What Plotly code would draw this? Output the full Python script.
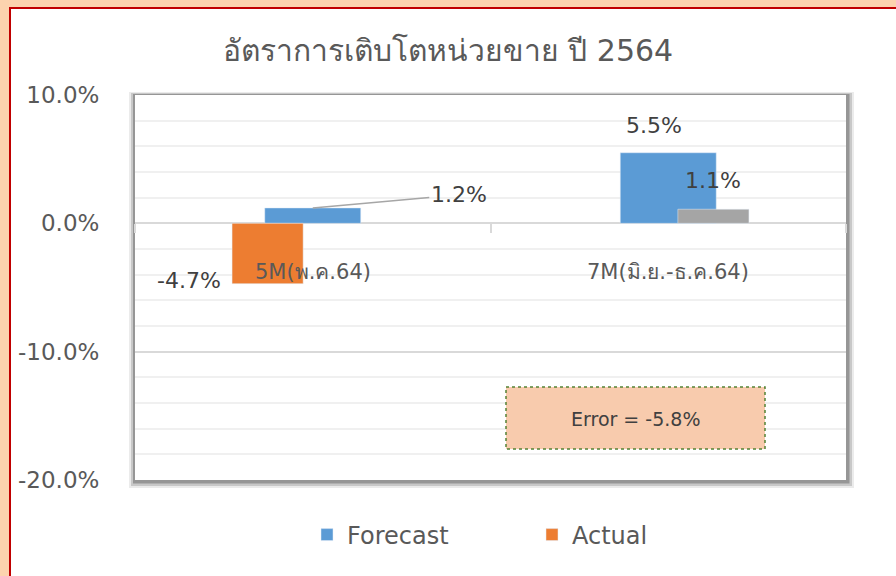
import plotly.graph_objects as go

# Daten
categories = ["5M(พ.ค.64)", "7M(มิ.ย.-ธ.ค.64)"]
forecast = [0.012, 0.055]
actual = [-0.047, None]
actual_7m = [None, 0.011]
error_value = -0.058
y_ticks = [0.10, 0.0, -0.10, -0.20]

W, H = 896, 576
L, R, T, B = 135, 50, 95, 96
TXT = "#595959"
FONT = "Tahoma, 'DejaVu Sans', 'Noto Sans', sans-serif"


def fx(px):
    return (px - L) / (W - L - R)


def fy(py):
    return (H - B - py) / (H - T - B)


fig = go.Figure()

fig.add_trace(go.Bar(x=categories, y=forecast, name="Forecast", marker_color="#5b9bd5",
                     width=0.27, offset=-0.135))
fig.add_trace(go.Bar(x=categories, y=actual, name="Actual", marker_color="#ed7d31",
                     width=0.2, offset=-0.227))
fig.add_trace(go.Bar(x=categories, y=actual_7m, name="Actual 7M", marker_color="#a5a5a5",
                     width=0.2, offset=0.027, showlegend=False))

# Datenbeschriftungen
ann = []
ann.append(dict(x=categories[0], y=forecast[0], text=f"{forecast[0]:.1%}", showarrow=True,
                arrowhead=0, arrowwidth=1.5, arrowcolor="#a6a6a6", ax=146, ay=-13))
ann.append(dict(x=categories[1], y=forecast[1], text=f"{forecast[1]:.1%}", showarrow=False,
                xshift=-14, yshift=27))
ann.append(dict(x=categories[0], y=actual[0], text=f"{actual[0]:.1%}", showarrow=False,
                xshift=-124, yshift=3))
ann.append(dict(x=categories[1], y=actual_7m[1], text=f"{actual_7m[1]:.1%}", showarrow=False,
                xshift=45, yshift=29))
for a in ann:
    a["font"] = dict(size=22, color="#404040", family=FONT)

# Kategorien direkt unter der Nulllinie
for c in categories:
    ann.append(dict(x=c, y=0, text=c, showarrow=False, yshift=-49,
                    font=dict(size=21, color=TXT, family=FONT)))

# Error-Box
ann.append(dict(xref="paper", yref="paper", x=fx(635.5), y=fy(419), xanchor="center", yanchor="middle",
                text=f"Error = {error_value:.1%}", showarrow=False,
                font=dict(size=19, color="#404040", family=FONT)))

shapes = [
    # weisser Rahmen mit rotem Rand
    dict(type="rect", xref="paper", yref="paper", x0=fx(10), x1=fx(905), y0=fy(8), y1=fy(590),
         fillcolor="white", line=dict(color="#c00000", width=2), layer="below"),
    # Schatten um den Plotbereich
    dict(type="rect", xref="paper", yref="paper", x0=fx(129), x1=fx(854), y0=fy(92), y1=fy(488),
         fillcolor="rgba(0,0,0,0.08)", line_width=0, layer="below"),
    dict(type="rect", xref="paper", yref="paper", x0=fx(131), x1=fx(852), y0=fy(93), y1=fy(486),
         fillcolor="rgba(0,0,0,0.15)", line_width=0, layer="below"),
    dict(type="rect", xref="paper", yref="paper", x0=fx(133), x1=fx(849.5), y0=fy(94), y1=fy(483.5),
         fillcolor="rgba(0,0,0,0.25)", line_width=0, layer="below"),
    dict(type="rect", xref="paper", yref="paper", x0=0, x1=1, y0=0, y1=1,
         fillcolor="white", line_width=0, layer="below"),
    # Error-Box
    dict(type="rect", xref="paper", yref="paper", x0=fx(506), x1=fx(765), y0=fy(387), y1=fy(449),
         fillcolor="#f8cbad", line=dict(color="#548235", width=1.5, dash="dot")),
]

fig.update_layout(
    width=W, height=H,
    margin=dict(l=L, r=R, t=T, b=B, autoexpand=False),
    paper_bgcolor="#fcd3ae",
    plot_bgcolor="rgba(0,0,0,0)",
    barmode="overlay",
    title=dict(text="อัตราการเติบโตหน่วยขาย ปี 2564", x=0.5, xanchor="center",
               y=1 - 50 / H, yanchor="middle", font=dict(size=30, color=TXT, family=FONT)),
    font=dict(family=FONT, color=TXT),
    xaxis=dict(type="category", range=[-0.5, 1.5], anchor="free", position=2 / 3, automargin=False,
               showticklabels=False, ticks="outside", tickson="boundaries", ticklen=9,
               tickcolor="#d9d9d9", tickwidth=1.5, showgrid=False, showline=False),
    yaxis=dict(range=[-0.2, 0.1], tickvals=y_ticks, ticktext=[f"{v:.1%}" for v in y_ticks],
               automargin=False, tickfont=dict(size=23, color=TXT), ticks="outside", ticklen=30,
               tickcolor="rgba(0,0,0,0)", showgrid=True, gridcolor="#d9d9d9", gridwidth=1.5,
               zeroline=True, zerolinecolor="#d9d9d9", zerolinewidth=2,
               minor=dict(dtick=0.02, showgrid=True, gridcolor="#f0f0f0", gridwidth=1.5)),
    legend=dict(orientation="h", x=fx(307), xanchor="left", y=fy(535), yanchor="middle",
                font=dict(size=24, color=TXT), entrywidth=180, bgcolor="rgba(0,0,0,0)"),
    annotations=ann,
    shapes=shapes,
    showlegend=True,
)

# Seitenrand entfernen, damit die Grafik bündig sitzt
fig.write_html("out.html", config={"displayModeBar": False},
               post_script="document.body.style.margin='0';")
